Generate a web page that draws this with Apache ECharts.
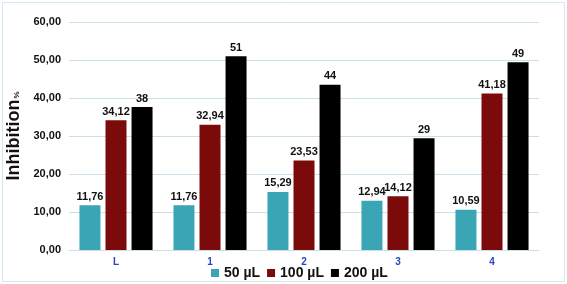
<!DOCTYPE html>
<html><head><meta charset="utf-8">
<script src="https://cdn.jsdelivr.net/npm/echarts@6/dist/echarts.min.js"></script>
<style>html,body{margin:0;padding:0;background:#fff}#c{width:567px;height:284px}</style>
</head><body><div id="c"></div>
<script>
var categories = ['L', '1', '2', '3', '4'];
var seriesNames = ['50 µL', '100 µL', '200 µL'];
var v50 = [11.76, 11.76, 15.29, 12.94, 10.59];
var v100 = [34.12, 32.94, 23.53, 14.12, 41.18];
var v200 = [37.6, 51.0, 43.5, 29.4, 49.4];
var yTicks = [0, 10, 20, 30, 40, 50, 60];
var colors = ['#3aa5b5', '#7b0b0b', '#000000'];

function fmt2(v) { return v.toFixed(2).replace('.', ','); }
function fmt0(v) { return Math.round(v).toString(); }

var font = '"Liberation Sans", Arial, sans-serif';
var chart = echarts.init(document.getElementById('c'), null, {renderer: 'canvas'});
function mk(name, data, color, formatter) {
  return {
    name: name, type: 'bar', data: data, barWidth: 21, barGap: '24%',
    itemStyle: {color: color},
    label: {show: true, position: 'top', distance: 3, color: '#111', fontWeight: 'bold', fontSize: 11, fontFamily: font,
      formatter: function (p) { return formatter(p.value); }}
  };
}
chart.setOption({
  animation: false,
  textStyle: {fontFamily: font},
  graphic: [{type: 'rect', shape: {x: 2.5, y: 2.5, width: 562, height: 279}, style: {fill: 'none', stroke: '#d3e8f0', lineWidth: 1}, silent: true}],
  grid: {left: 69, right: 28, top: 22, bottom: 34, containLabel: false, outerBoundsMode: 'none'},
  legend: {
    top: 266, left: 211, padding: 0, itemWidth: 8, itemHeight: 8, itemGap: 7, itemTextGap: 3,
    icon: 'rect', data: seriesNames,
    textStyle: {fontSize: 14, fontWeight: 'bold', color: '#111', fontFamily: font}
  },
  xAxis: {
    type: 'category', data: categories,
    axisLine: {lineStyle: {color: '#c9e0ea'}}, axisTick: {show: false},
    axisLabel: {color: '#2a45c0', fontWeight: 'bold', fontSize: 10, margin: 7, fontFamily: font}
  },
  yAxis: {
    type: 'value', min: yTicks[0], max: yTicks[yTicks.length - 1], interval: 10,
    axisLine: {show: false}, axisTick: {show: false},
    splitLine: {lineStyle: {color: '#c9e0ea'}},
    axisLabel: {color: '#111', fontWeight: 'bold', fontSize: 11, margin: 8, fontFamily: font, formatter: function (v) { return fmt2(v); }},
    name: '{a|Inhibition}{b|%}', nameLocation: 'middle', nameRotate: 90, nameGap: 43,
    nameTextStyle: {
      rich: {
        a: {fontSize: 18, fontWeight: 'bold', color: '#111', fontFamily: font, verticalAlign: 'bottom'},
        b: {fontSize: 8, fontWeight: 'bold', color: '#111', fontFamily: font, verticalAlign: 'bottom', padding: [0, 0, 2, 1]}
      }
    }
  },
  series: [mk(seriesNames[0], v50, colors[0], fmt2), mk(seriesNames[1], v100, colors[1], fmt2), mk(seriesNames[2], v200, colors[2], fmt0)]
});
</script></body></html>
